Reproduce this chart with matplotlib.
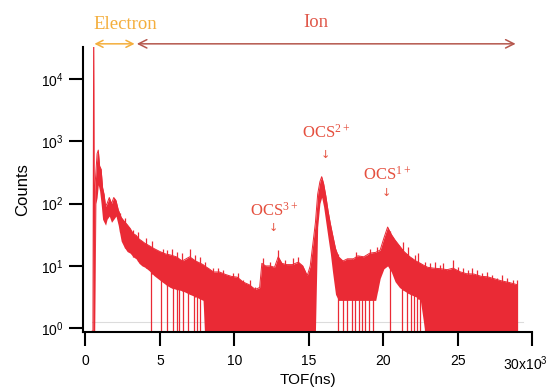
import numpy as np
import matplotlib
matplotlib.use("Agg")
import matplotlib.pyplot as plt
from matplotlib.ticker import FixedLocator, NullLocator
from matplotlib.transforms import ScaledTranslation

# Time of flight (units of 10^3 ns) and the count envelope of the spectrum
tof = [0.45, 0.50, 0.55, 0.60, 0.62, 0.70, 0.78, 0.86, 0.95, 1.05, 1.15, 1.25, 1.35, 1.45,
       1.60, 1.75, 1.90, 2.05, 2.20, 2.40, 2.60, 2.80, 3.00, 3.20, 3.40, 3.60, 3.80, 4.00,
       4.30, 4.60, 5.00, 5.40, 5.70, 6.10, 6.50, 7.00, 7.40, 7.90, 8.00, 8.30, 8.60, 9.00,
       9.40, 9.80, 10.2, 10.6, 11.0, 11.4, 11.7, 11.85, 12.1, 12.4, 12.7, 12.95, 13.2, 13.5,
       13.9, 14.3, 14.6, 14.9, 15.1, 15.3, 15.45, 15.6, 15.75, 15.87, 16.0, 16.15, 16.3,
       16.45, 16.6, 16.8, 17.0, 17.3, 17.6, 18.0, 18.3, 18.7, 19.1, 19.5, 19.8, 20.05, 20.3,
       20.55, 20.8, 21.1, 21.4, 21.8, 22.2, 22.5, 22.8, 23.0, 23.4, 23.9, 24.3, 24.7, 25.2,
       25.6, 26.1, 26.6, 27.0, 27.5, 27.9, 28.5, 29.0]

counts_high = [0.9, 0.9, 1e5, 0.9, 160, 320, 630, 720, 400, 355, 180, 140, 90, 100,
               125, 100, 125, 112, 80, 60, 52, 46, 40, 33, 31, 27, 25, 23,
               21, 19, 17, 15.5, 15, 14, 12, 14, 12, 10.5, 10, 9, 8, 8,
               7.3, 6.8, 6.6, 5.5, 5, 4.2, 4.5, 11, 10, 10, 9.5, 14, 11, 10.5,
               10.5, 11.5, 10, 7, 10, 25, 50, 141, 224, 270, 209, 132, 76,
               48, 32, 19, 14, 12, 13, 13, 14.5, 14, 16, 16.5, 18, 28, 42,
               32, 26, 21, 17, 14, 12, 11, 10, 9.5, 9.2, 9, 8.7, 9.2, 8,
               7.5, 7.4, 6.8, 6.7, 6.2, 5.8, 5.4, 5.0]

counts_low = [0.9, 0.9, 0.9, 0.9, 0.9, 100, 125, 200, 160, 100, 56, 50, 45, 56,
              63, 50, 56, 63, 45, 25, 20, 17, 16, 14, 13, 11, 10, 9.5,
              8.3, 7, 5.9, 5, 4.5, 4.2, 4, 3.5, 3.2, 2.8, 0.9, 0.9, 0.9, 0.9,
              0.9, 0.9, 0.9, 0.9, 0.9, 0.9, 0.9, 0.9, 0.9, 0.9, 0.9, 0.9, 0.9, 0.9,
              0.9, 0.9, 0.9, 0.9, 0.9, 0.9, 0.9, 42, 100, 126, 89, 50, 28,
              16, 8, 3.5, 2.8, 2.8, 2.8, 2.8, 2.8, 2.8, 2.8, 2.8, 6.3, 9, 10,
              8, 5.6, 4.5, 4, 3.5, 3.2, 2.8, 0.9, 0.9, 0.9, 0.9, 0.9, 0.9, 0.9,
              0.9, 0.9, 0.9, 0.9, 0.9, 0.9, 0.9, 0.9]

# Single bins standing above the envelope
spike_tof = [2.3, 2.65, 3.19, 3.5, 4.09, 4.5, 5.21, 5.5, 5.79, 6.13, 6.47, 7.02, 7.36, 7.69,
             8.03, 8.59, 8.92, 9.26, 9.6, 9.93, 10.27, 10.6, 11.06, 11.39, 11.95, 12.4,
             12.96, 13.4, 13.97, 14.3, 18.2, 19.1, 19.6, 21.36, 21.69, 22.14, 22.37, 22.82,
             23.15, 23.49, 23.82, 24.05, 24.72, 25.05, 25.39, 25.73, 25.95, 26.29, 26.63,
             26.96, 27.3, 27.63, 27.97, 28.31, 28.75, 28.98]
spike_counts = [70, 58, 38, 35, 28, 25, 19, 18, 19, 17, 15.9, 19, 15, 14,
                11.7, 9.1, 9.1, 8.5, 7.1, 7.6, 7.6, 5.9, 5.9, 4.6, 13.2, 11.7,
                18.3, 12.4, 13.2, 14, 17, 19, 20, 24.5, 20.4, 15, 15.9, 11.7,
                11, 11.7, 10.2, 11, 12.4, 9.7, 9.1, 8.5, 9.1, 8.5, 7.6,
                8.1, 7.1, 6.3, 7.1, 6.3, 5.9, 5.9]

# Bins where the count drops to the floor
dropouts = [4.4, 5.05, 5.5, 5.85, 6.15, 6.3, 6.55, 6.9, 7.3, 7.5, 7.7,
            12.1, 16.95, 17.3, 17.6, 17.9, 18.1, 18.35, 18.6, 18.8, 19.05, 19.3,
            20.45, 21.3, 21.6, 21.9, 22.1, 22.3, 22.5]

# Peak assignments
peak_names = ["OCS$\\mathregular{^{3+}}$", "OCS$\\mathregular{^{2+}}$", "OCS$\\mathregular{^{1+}}$"]
peak_tof = [12.7, 16.2, 20.3]
peak_label_y = [76, 1350, 295]
peak_arrow_y = [41, 600, 148]

xticks = [0, 5, 10, 15, 20, 25, 30]
xtick_labels = ["0", "5", "10", "15", "20", "25", "30x10$\\mathregular{^3}$"]
yticks = [1, 10, 100, 1000, 10000]

RED = "#ea2a35"
LABEL_RED = "#e5503f"
ORANGE = "#f4ae3c"
ION_TEXT = "#e0584a"
ION_ARROW = "#b5574d"
SERIF = ["Liberation Serif", "DejaVu Serif"]

plt.rcParams["font.family"] = ["Liberation Sans", "DejaVu Sans"]
plt.rcParams["mathtext.fontset"] = "custom"
plt.rcParams["mathtext.rm"] = "Liberation Sans"

fig = plt.figure(figsize=(5.53, 3.87), dpi=100)
ax = fig.add_axes([0.150, 0.142, 0.812, 0.737])

x = np.array(tof)
hi = np.array(counts_high)
lo = np.array(counts_low)

ax.fill_between(x, lo, hi, color=RED, lw=0, zorder=2)
ax.plot(x, hi, color=RED, lw=0.7, zorder=2)
ax.vlines(spike_tof, np.interp(spike_tof, x, lo), spike_counts, color=RED, lw=0.9, zorder=2)
ax.vlines(dropouts, 0.9, np.interp(dropouts, x, hi), color=RED, lw=0.9, zorder=2)
ax.axhline(1.26, xmin=0.02, xmax=0.98, color="#dcdcdc", lw=0.8, zorder=1)

ax.set_yscale("log")
ax.set_xlim(-0.17, 30)
ax.set_ylim(0.87, 32600)

ax.xaxis.set_major_locator(FixedLocator(xticks))
ax.set_xticklabels(xtick_labels)
ax.yaxis.set_major_locator(FixedLocator(yticks))
ax.yaxis.set_minor_locator(NullLocator())

for side in ("top", "right"):
    ax.spines[side].set_visible(False)
for side in ("left", "bottom"):
    ax.spines[side].set_linewidth(1.5)
ax.tick_params(axis="both", direction="out", length=10, width=1.5, labelsize=10)
ax.tick_params(axis="x", pad=6)
ax.tick_params(axis="y", pad=4)

# keep the last x label inside the figure edge
last = ax.get_xticklabels()[-1]
last.set_transform(last.get_transform() + ScaledTranslation(-5 / 72, 0, fig.dpi_scale_trans))

ax.set_xlabel("TOF(ns)", fontsize=11, labelpad=0)
ax.set_ylabel("Counts", fontsize=12, labelpad=8)

# Peak labels with arrows
for name, px, ly, ay in zip(peak_names, peak_tof, peak_label_y, peak_arrow_y):
    ax.text(px, ly, name, color=LABEL_RED, fontsize=12, ha="center", va="center", family=SERIF)
    ax.text(px - 0.1, ay, "\u2193", color=LABEL_RED, fontsize=8, ha="center", va="center",
            family=["DejaVu Sans"])

# Electron / Ion ranges above the plot
trans = ax.get_xaxis_transform()
ax.annotate("", xy=(0.6, 1.0105), xytext=(3.3, 1.0105), xycoords=trans, textcoords=trans,
            arrowprops=dict(arrowstyle="<->,head_length=0.5,head_width=0.25", color=ORANGE,
                            lw=1.1, shrinkA=0, shrinkB=0), annotation_clip=False)
ax.annotate("", xy=(3.45, 1.0105), xytext=(28.9, 1.0105), xycoords=trans, textcoords=trans,
            arrowprops=dict(arrowstyle="<->,head_length=0.6,head_width=0.3", color=ION_ARROW,
                            lw=1.1, shrinkA=0, shrinkB=0), annotation_clip=False)
ax.text(2.65, 1.08, "Electron", transform=trans, color=ORANGE, fontsize=13.5, ha="center",
        va="center", family=SERIF, clip_on=False)
ax.text(15.5, 1.085, "Ion", transform=trans, color=ION_TEXT, fontsize=13.5, ha="center",
        va="center", family=SERIF, clip_on=False)

fig.savefig("out.png", dpi=100)
